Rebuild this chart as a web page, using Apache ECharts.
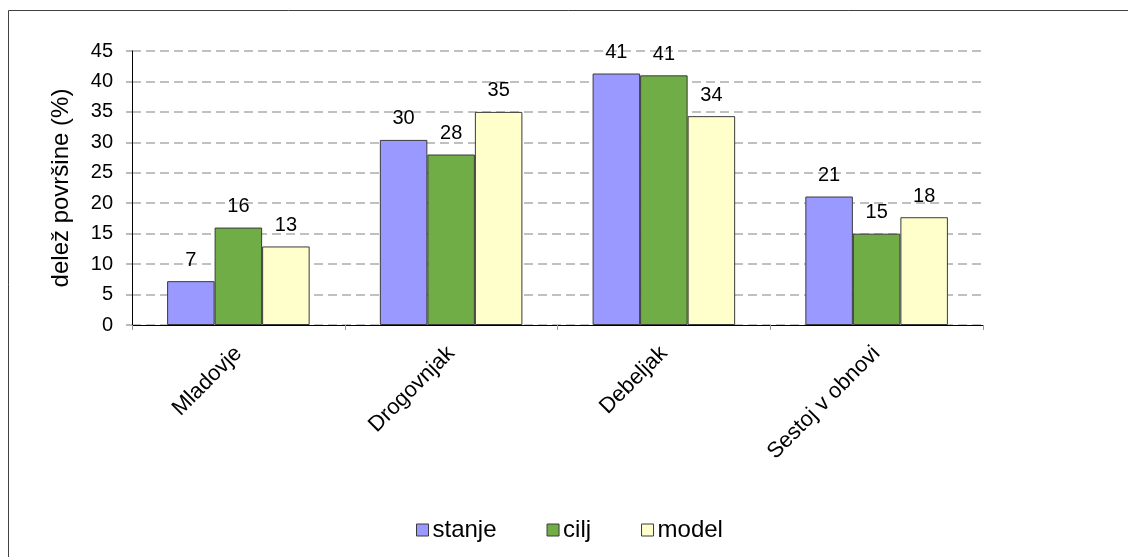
<!DOCTYPE html>
<html>
<head>
<meta charset="utf-8">
<script src="https://cdn.jsdelivr.net/npm/echarts@6/dist/echarts.min.js"></script>
<style>
  html, body { margin: 0; padding: 0; background: #fff; }
  #chart { width: 1128px; height: 557px; }
</style>
</head>
<body>
<div id="chart"></div>
<script>
// Share of forest area by development stage
const categories = ['Mladovje', 'Drogovnjak', 'Debeljak', 'Sestoj v obnovi'];
const stanje = [7.2, 30.4, 41.3, 21.1];
const cilj = [16.0, 28.0, 41.0, 15.0];
const model = [12.9, 35.0, 34.3, 17.7];
const seriesNames = ['stanje', 'cilj', 'model'];
const seriesColors = ['#9999FF', '#70AD47', '#FFFFCC'];

const FONT = 'Liberation Sans, Arial, sans-serif';

const chart = echarts.init(document.getElementById('chart'), null, { renderer: 'canvas' });

function barSeries(name, data, color) {
  return {
    name: name,
    type: 'bar',
    data: data,
    barGap: '0%',
    barCategoryGap: '33%',
    itemStyle: { color: color, borderColor: '#3a3a3a', borderWidth: 1 },
    label: {
      show: true,
      position: 'top',
      distance: 11,
      color: '#000',
      fontFamily: FONT,
      fontSize: 20,
      formatter: p => Math.round(p.value)
    }
  };
}

chart.setOption({
  animation: false,
  backgroundColor: '#fff',
  graphic: [{
    type: 'rect',
    shape: { x: 8.5, y: 10.5, width: 1130, height: 560 },
    style: { fill: 'none', stroke: '#404040', lineWidth: 1 },
    silent: true
  }],
  legend: {
    data: seriesNames,
    left: 411,
    top: 513,
    itemWidth: 12,
    itemHeight: 12,
    itemGap: 50,
    icon: 'rect',
    textStyle: { fontFamily: FONT, fontSize: 24, color: '#000', padding: [0, 0, 0, -1] },
    itemStyle: { borderColor: '#3a3a3a', borderWidth: 1 }
  },
  grid: { left: 132, right: 145, top: 51, bottom: 232, containLabel: false },
  xAxis: {
    type: 'category',
    data: categories,
    axisLine: { lineStyle: { color: '#000', width: 1 } },
    axisTick: { show: true, length: 5, lineStyle: { color: '#999' } },
    axisLabel: {
      rotate: 45,
      margin: 25,
      fontFamily: FONT,
      fontSize: 22,
      color: '#000'
    }
  },
  yAxis: {
    type: 'value',
    min: 0,
    max: 45,
    interval: 5,
    name: 'delež površine (%)',
    nameLocation: 'middle',
    nameGap: 59,
    nameTextStyle: { fontFamily: FONT, fontSize: 24, color: '#000' },
    axisLine: { show: true, lineStyle: { color: '#000', width: 1 } },
    axisTick: { show: true, length: 6, lineStyle: { color: '#bbb', width: 2 } },
    axisLabel: { fontFamily: FONT, fontSize: 20, color: '#000', margin: 19 },
    splitLine: { show: true, lineStyle: { color: '#c0c0c0', width: 2, type: [9, 5] } }
  },
  series: [
    barSeries(seriesNames[0], stanje, seriesColors[0]),
    barSeries(seriesNames[1], cilj, seriesColors[1]),
    barSeries(seriesNames[2], model, seriesColors[2])
  ]
});
</script>
</body>
</html>
